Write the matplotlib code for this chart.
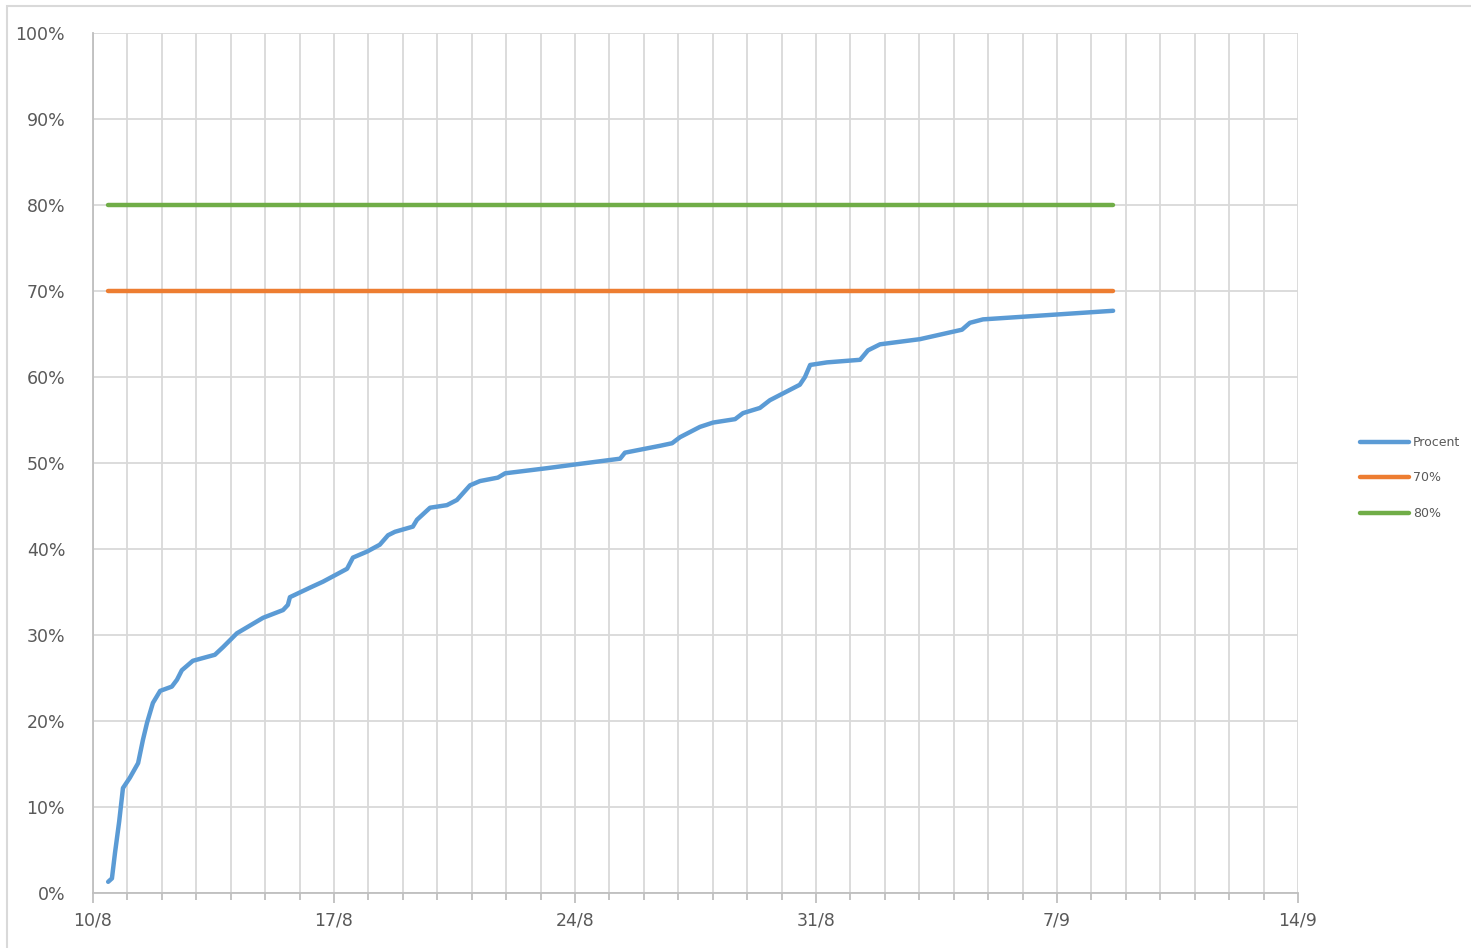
#!/usr/bin/env python3
import matplotlib

matplotlib.use("Agg")
import matplotlib.pyplot as plt
from matplotlib.patches import Rectangle
from matplotlib.ticker import FixedLocator, MultipleLocator, PercentFormatter

OUTPUT_PATH = "out.png"

# days after 10/8 and share reached (%)
DAYS = [
    0.44, 0.55, 0.64, 0.76, 0.87, 1.07, 1.31, 1.45, 1.57, 1.74, 1.95, 2.29,
    2.44, 2.58, 2.90, 3.54, 3.78, 4.18, 4.94, 5.52, 5.66, 5.72, 6.30, 6.68,
    7.38, 7.55, 7.96, 8.33, 8.57, 8.77, 9.29, 9.41, 9.79, 10.28, 10.57, 10.95,
    11.24, 11.76, 11.97, 13.19, 14.14, 15.31, 15.45, 16.47, 16.82, 17.05,
    17.63, 18.01, 18.65, 18.88, 19.37, 19.66, 20.53, 20.68, 20.83, 21.32,
    22.28, 22.51, 22.86, 24.02, 25.24, 25.47, 25.85, 29.63,
]
PROCENT = [
    1.3, 1.7, 4.7, 8.3, 12.2, 13.4, 15.1, 17.8, 19.8, 22.1, 23.5, 24.0,
    24.8, 25.9, 27.0, 27.7, 28.6, 30.2, 32.0, 32.9, 33.5, 34.4, 35.5, 36.2,
    37.7, 39.0, 39.7, 40.5, 41.6, 42.0, 42.6, 43.4, 44.8, 45.1, 45.7, 47.4,
    47.9, 48.3, 48.8, 49.4, 49.9, 50.5, 51.2, 52.0, 52.3, 53.0,
    54.2, 54.7, 55.1, 55.8, 56.4, 57.3, 59.1, 60.0, 61.4, 61.7,
    62.0, 63.1, 63.8, 64.4, 65.5, 66.3, 66.7, 67.7,
]
TARGET_70 = 70.0
TARGET_80 = 80.0

WEEK_TICKS = [0, 7, 14, 21, 28, 35]
WEEK_LABELS = ["10/8", "17/8", "24/8", "31/8", "7/9", "14/9"]

BLUE = "#5B9BD5"
ORANGE = "#ED7D31"
GREEN = "#70AD47"
GRID = "#D9D9D9"
TEXT = "#595959"


def main() -> None:
    fig = plt.figure(figsize=(14.71, 9.48), dpi=100)
    fig.patch.set_facecolor("white")
    fig.patches.append(
        Rectangle((7 / 1471, -0.05), 1.1, 1.05 - 6 / 948, transform=fig.transFigure,
                  fill=False, edgecolor="#D9D9D9", linewidth=1.5)
    )

    ax = fig.add_axes([93 / 1471, 1 - 893 / 948, (1298 - 93) / 1471, (893 - 33) / 948])

    lw = 3.2
    ax.plot(DAYS, PROCENT, color=BLUE, linewidth=lw, solid_capstyle="round",
            solid_joinstyle="round", label="Procent", zorder=3)
    ax.plot([DAYS[0], DAYS[-1]], [TARGET_70, TARGET_70], color=ORANGE, linewidth=lw,
            solid_capstyle="round", label="70%", zorder=3)
    ax.plot([DAYS[0], DAYS[-1]], [TARGET_80, TARGET_80], color=GREEN, linewidth=lw,
            solid_capstyle="round", label="80%", zorder=3)

    ax.set_xlim(0, 35)
    ax.set_ylim(0, 100)
    ax.xaxis.set_major_locator(FixedLocator(WEEK_TICKS))
    ax.set_xticklabels(WEEK_LABELS)
    ax.xaxis.set_minor_locator(MultipleLocator(1))
    ax.yaxis.set_major_locator(MultipleLocator(10))
    ax.yaxis.set_major_formatter(PercentFormatter(decimals=0))

    ax.grid(True, which="both", axis="x", color=GRID, linewidth=1.3)
    ax.grid(True, which="major", axis="y", color=GRID, linewidth=1.3)
    ax.set_axisbelow(True)

    for side in ("top", "right"):
        ax.spines[side].set_visible(False)
    for side in ("left", "bottom"):
        ax.spines[side].set_color("#BFBFBF")
        ax.spines[side].set_linewidth(1.3)

    ax.tick_params(axis="y", length=0, pad=20, labelsize=12.5, labelcolor=TEXT)
    ax.tick_params(axis="x", which="major", length=7, width=1.3, color="#BFBFBF",
                   pad=6, labelsize=12.5, labelcolor=TEXT)
    ax.tick_params(axis="x", which="minor", length=5, width=1.3, color="#BFBFBF")

    ax.legend(loc="center left", bbox_to_anchor=(1.0425, 0.4826), frameon=False,
              fontsize=9, labelcolor=TEXT, handlelength=3.9, handletextpad=0.3,
              labelspacing=1.8)

    fig.savefig(OUTPUT_PATH, dpi=100, facecolor="white")
    plt.close(fig)


if __name__ == "__main__":
    main()
